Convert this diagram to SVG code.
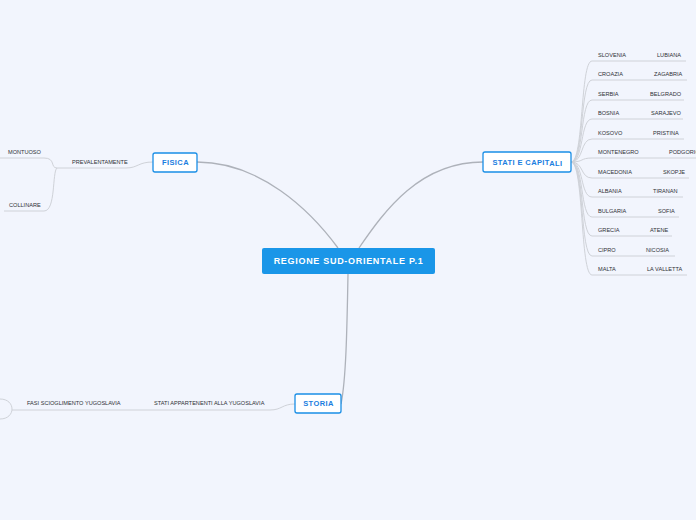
<svg xmlns="http://www.w3.org/2000/svg" width="696" height="520" viewBox="0 0 696 520">
<style>
.bg{fill:#f2f5fd}
.main{fill:none;stroke:#aeb2ba;stroke-width:1.3}
.sub{fill:none;stroke:#cfd2d8;stroke-width:1}
.box{fill:#fff;stroke:#1a8ee6;stroke-width:1.3}
.bt{font-family:"Liberation Sans",Arial,sans-serif;font-weight:bold;font-size:7.5px;fill:#1a7ee0;text-anchor:middle;letter-spacing:0.4px}
.ct{font-family:"Liberation Sans",Arial,sans-serif;font-weight:bold;font-size:9px;fill:#fff;text-anchor:middle;letter-spacing:0.7px}
.t{font-family:"Liberation Sans",Arial,sans-serif;font-size:5.6px;fill:#2e3035}
</style>
<rect class="bg" width="696" height="520"/>
<g id="connectors">
<path class="main" d="M338,248 C310,210 260,162 197,162"/>
<path class="main" d="M359,248 C385,210 420,162 483,162"/>
<path class="main" d="M348,274 C347,330 346,380 341,404"/>
<path class="sub" d="M153,162 C138,162 138,168 126,168 L57,168"/>
<path class="sub" d="M57,168 C50,168 56,158 44,158 L0,158"/>
<path class="sub" d="M57,168 C52,172 56,211 44,211 L4,211"/>
<path class="sub" d="M295,404 C282,404 282,410 270,410 L12,410"/>
<path class="sub" d="M0,399 C8,399 12,404 12,409 C12,414 8,419 0,419"/>
<g>
<path class="sub" d="M571,162 C584,162 580,61 592,61 L686,61"/>
<path class="sub" d="M571,162 C584,162 580,80 592,80 L687,80"/>
<path class="sub" d="M571,162 C584,162 580,100 592,100 L684,100"/>
<path class="sub" d="M571,162 C584,162 580,119 592,119 L683,119"/>
<path class="sub" d="M571,162 C584,162 580,139 592,139 L684,139"/>
<path class="sub" d="M571,162 C584,162 580,158 592,158 L696,158"/>
<path class="sub" d="M571,162 C584,162 580,178 592,178 L689,178"/>
<path class="sub" d="M571,162 C584,162 580,197 592,197 L683,197"/>
<path class="sub" d="M571,162 C584,162 580,217 592,217 L679,217"/>
<path class="sub" d="M571,162 C584,162 580,236 592,236 L672,236"/>
<path class="sub" d="M571,162 C584,162 580,256 592,256 L675,256"/>
<path class="sub" d="M571,162 C584,162 580,275 592,275 L687,275"/>
</g>
</g>
<g id="central">
<rect x="262" y="248" width="173" height="26" rx="2" fill="#1a96e8"/>
<text class="ct" x="348.5" y="264.3">REGIONE SUD-ORIENTALE P.1</text>
</g>
<g id="fisica">
<rect class="box" x="153" y="153" width="44" height="19" rx="2"/>
<text class="bt" x="175.5" y="165">FISICA</text>
</g>
<g id="stati">
<rect class="box" x="483" y="152" width="88" height="20" rx="2"/>
<text class="bt" x="527.5" y="164.5">STATI E CAPIT<tspan dy="1">ALI</tspan></text>
</g>
<g id="storia">
<rect class="box" x="295" y="394" width="46" height="19" rx="2"/>
<text class="bt" x="318.5" y="406">STORIA</text>
</g>
<g id="prevalentemente"><text class="t" x="72" y="164">PREVALENTAMENTE</text></g>
<g id="montuoso"><text class="t" x="8" y="154">MONTUOSO</text></g>
<g id="collinare"><text class="t" x="9" y="207">COLLINARE</text></g>
<g id="stati-app"><text class="t" x="154" y="405">STATI APPARTENENTI ALLA YUGOSLAVIA</text></g>
<g id="fasi"><text class="t" x="27" y="405">FASI SCIOGLIMENTO YUGOSLAVIA</text></g>
<g id="items">
<text class="t" x="598" y="57">SLOVENIA</text><text class="t" x="657" y="57">LUBIANA</text>
<text class="t" x="598" y="76">CROAZIA</text><text class="t" x="654" y="76">ZAGABRIA</text>
<text class="t" x="598" y="96">SERBIA</text><text class="t" x="650" y="96">BELGRADO</text>
<text class="t" x="598" y="115">BOSNIA</text><text class="t" x="651" y="115">SARAJEVO</text>
<text class="t" x="598" y="135">KOSOVO</text><text class="t" x="653" y="135">PRISTINA</text>
<text class="t" x="598" y="154">MONTENEGRO</text><text class="t" x="669" y="154">PODGORICA</text>
<text class="t" x="598" y="174">MACEDONIA</text><text class="t" x="663" y="174">SKOPJE</text>
<text class="t" x="598" y="193">ALBANIA</text><text class="t" x="653" y="193">TIRANAN</text>
<text class="t" x="598" y="213">BULGARIA</text><text class="t" x="658" y="213">SOFIA</text>
<text class="t" x="598" y="232">GRECIA</text><text class="t" x="650" y="232">ATENE</text>
<text class="t" x="598" y="252">CIPRO</text><text class="t" x="646" y="252">NICOSIA</text>
<text class="t" x="598" y="271">MALTA</text><text class="t" x="647" y="271">LA VALLETTA</text>
</g>
</svg>
